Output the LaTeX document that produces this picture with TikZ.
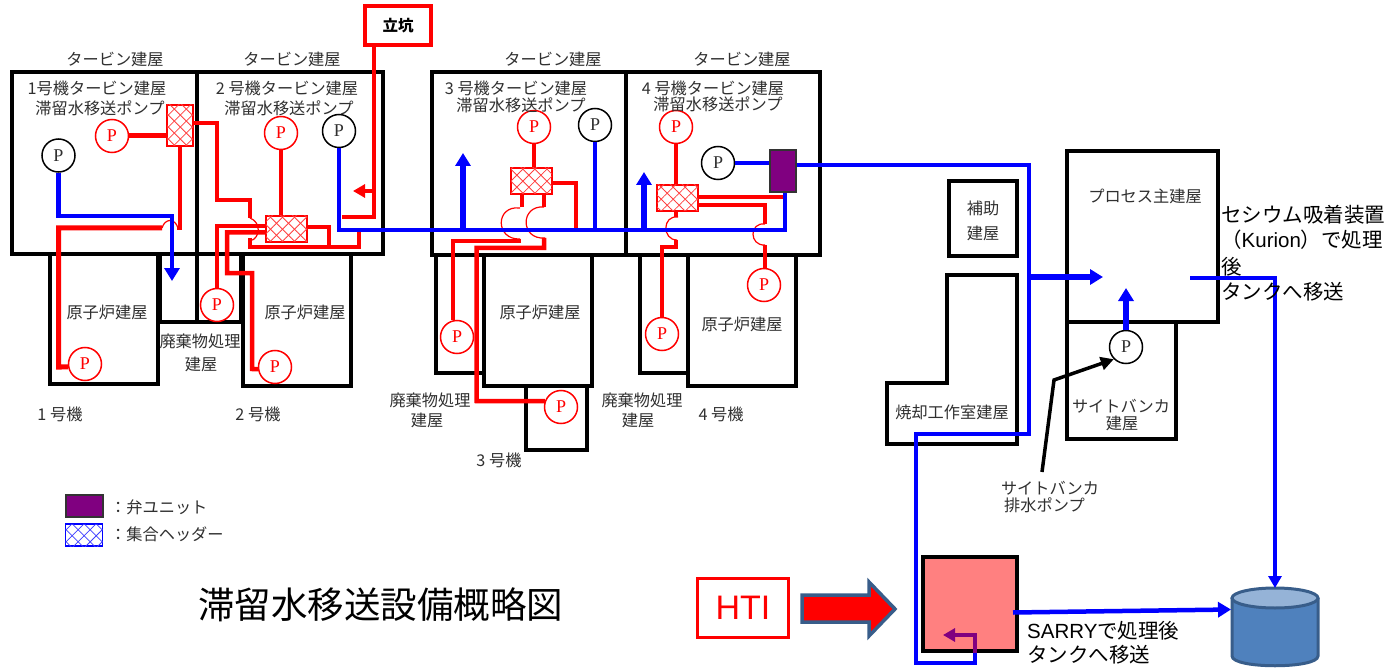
\documentclass[tikz,border=0pt]{standalone}
\usepackage{fontspec}
\setmainfont{Noto Sans CJK JP}
\newfontfamily\latinsans{Liberation Sans}
\newfontfamily\latinserif{Liberation Serif}
\usetikzlibrary{arrows.meta,patterns.meta,calc}
\definecolor{txtgray}{HTML}{303030}
\definecolor{purpleunit}{HTML}{800080}
\definecolor{salmonbox}{HTML}{FF8080}
\definecolor{tankblue}{HTML}{4F81BD}
\definecolor{tanktopc}{HTML}{95B3D7}
\definecolor{tankedge}{HTML}{385D8A}
\tikzset{
  x=1pt,y=-1pt,
  bldg/.style={draw=black,line width=4pt,fill=none,line join=miter},
  lbl/.style={inner sep=0pt,text=txtgray,font=\fontsize{16.2}{19}\selectfont},
  biglbl/.style={inner sep=0pt,text=black,font=\fontsize{20.5}{24}\selectfont,anchor=west},
  pump/.style={circle,minimum size=33pt,inner sep=0pt,line width=1.5pt,fill=white,font=\latinserif\fontsize{18}{20}\selectfont},
  pumpr/.style={pump,draw=red,text=red},
  pumpk/.style={pump,draw=black,text=txtgray},
  hdr/.style={rectangle,inner sep=0pt,draw=red,line width=1.6pt,fill=white,
    postaction={pattern={Lines[angle=45,distance=8.5pt,line width=.8pt]},pattern color=red!75},
    postaction={pattern={Lines[angle=-45,distance=8.5pt,line width=.8pt]},pattern color=red!75}},
  hdrb/.style={rectangle,inner sep=0pt,draw=blue,line width=1.6pt,fill=white,
    postaction={pattern={Lines[angle=45,distance=8.5pt,line width=.8pt]},pattern color=blue!75},
    postaction={pattern={Lines[angle=-45,distance=8.5pt,line width=.8pt]},pattern color=blue!75}},
  unit/.style={rectangle,inner sep=0pt,draw=black!80,line width=1.3pt,fill=purpleunit},
  rp/.style={draw=red,line width=4.5pt},
  rpt/.style={draw=red,line width=5pt},
  bp/.style={draw=blue,line width=4.5pt},
  bpt/.style={draw=blue,line width=5.5pt},
  hop/.style={draw=red,line width=1.2pt},
  ah/.style={-{Triangle[width=15pt,length=13pt]}},
  ahs/.style={-{Triangle[width=13pt,length=12pt]}},
}
\begin{document}
\begin{tikzpicture}
\useasboundingbox (0,0) rectangle (1391,668);
\fill[white] (0,0) rectangle (1391,668);

% ---- buildings, units 1-2
\draw[bldg] (12,72.5) rectangle (383,254);
\draw[bldg] (197,72.5) -- (197,322);
\draw[bldg] (50,254) rectangle (158,384);
\draw[bldg] (160,254) -- (160,322) -- (241,322) -- (241,254);
\draw[bldg] (243,254) rectangle (351,386);
% ---- buildings, units 3-4
\draw[bldg] (432,72.5) rectangle (820,255);
\draw[bldg] (626,72.5) -- (626,255);
\draw[bldg] (436,255) -- (436,373) -- (484,373);
\draw[bldg] (484,255) rectangle (592,386);
\draw[bldg] (526,386) -- (526,450) -- (587,450) -- (587,386);
\draw[bldg] (640,255) -- (640,373) -- (688,373);
\draw[bldg] (688,255) rectangle (796,386);
% ---- right-hand buildings
\draw[bldg] (1067,151) rectangle (1218,322);
\draw[bldg] (1067,322) rectangle (1176,439);
\draw[bldg] (949,181) rectangle (1017,256);
\draw[bldg] (947,275) -- (1017,275) -- (1017,444) -- (887,444) -- (887,383) -- (947,383) -- cycle;

% ---- pumps
\node[pumpk] (pk1) at (58.5,155.5) {P};
\node[pumpr] (pr1) at (112,136) {P};
\node[pumpr] (pr1b) at (85,364) {P};
\node[pumpr] (pr2) at (281,133) {P};
\node[pumpk] (pk2) at (339,131) {P};
\node[pumpr] (pr2a) at (217,305) {P};
\node[pumpr] (pr2b) at (275,367) {P};
\node[pumpr] (pr3) at (534,127) {P};
\node[pumpk] (pk3) at (595,125) {P};
\node[pumpr] (pr3a) at (457,337) {P};
\node[pumpr] (pr3b) at (561,407) {P};
\node[pumpr] (pr4) at (676,127) {P};
\node[pumpk] (pk4) at (718,163) {P};
\node[pumpr] (pr4a) at (662,334) {P};
\node[pumpr] (pr4b) at (764,285) {P};
\node[pumpk] (pks) at (1126,347) {P};

% ---- headers and valve unit
\node[hdr,minimum width=26pt,minimum height=41pt] (h1) at (180,125.5) {};
\node[hdr,minimum width=41pt,minimum height=26pt] (h2) at (286.5,229) {};
\node[hdr,minimum width=41pt,minimum height=26pt] (h3) at (531.5,181) {};
\node[hdr,minimum width=41pt,minimum height=26pt] (h4) at (677.5,198) {};
\node[unit,minimum width=26pt,minimum height=42pt] (valve) at (783,171) {};

% ---- other boxes
\node[draw=red,line width=4pt,minimum width=66pt,minimum height=39pt,inner sep=0pt,font=\bfseries\fontsize{15.5}{18}\selectfont] (shaft) at (398,25.5) {\raisebox{-3.5pt}{立坑}};
\node[draw=red,line width=2.6pt,minimum width=91pt,minimum height=59pt,inner sep=0pt,text=red,font=\latinsans\fontsize{34}{38}\selectfont] (hti) at (743,608) {HTI};
\node[draw=black,line width=4pt,fill=salmonbox,minimum width=94pt,minimum height=94pt,inner sep=0pt] (sarry) at (970,603.5) {};
\draw[line width=3.5pt,draw=tankedge,fill=red,line join=miter]
  (802,595) -- (869,595) -- (869,582) -- (895,609) -- (869,636) -- (869,622) -- (802,622) -- cycle;

% ---- tank
\draw[line width=3pt,draw=tankedge,fill=tankblue]
  (1232,598) -- (1232,656) .. controls (1232,669) and (1318,669) .. (1318,656) -- (1318,598);
\draw[line width=3pt,draw=tankedge,fill=tanktopc] (1275,598) ellipse [x radius=43,y radius=10];
\coordinate (tanktop) at (1275,588);
\coordinate (tankside) at (1231,609.5);

% ---- red pipes, unit 1
\draw[rpt] (pr1.east) -- (h1.west |- 0,136);
\draw[rp] (h1.south) -- (h1.south |- 0,228) -- (177,228);
\draw[hop] (162,228) .. controls (165,218) and (175,218) .. (178,228);
\draw[rpt] (162,228) -- (58.5,228) -- (58.5,367) -- (pr1b.190);
\draw[rp] (h1.east |- 0,123) -- (217,123) -- (217,200) -- (250,200) -- (250,218);
\draw[hop] (250,218) .. controls (261,222) and (261,238) .. (250,241);
% ---- red pipes, unit 2
\draw[rp] (pr2.south) -- (h2.north -| pr2.south);
\draw[rp] (h2.west |- 0,226) -- (217,226) -- (pr2a.north);
\draw[rp] (h2.west |- 0,232.5) -- (227,232.5) -- (227,273) -- (252,273) -- (252,369) -- (pr2b.187);
\draw[rp] (250,238) -- (250,247) -- (359,247) -- (359,230);
\draw[rp] (h2.east |- 0,227) -- (329,227) -- (329,247);
% ---- shaft
\draw[rp] (shaft.south -| 374,0) -- (374,217) -- (342,217);
\draw[rp,ahs] (374,191) -- (353,191);
% ---- red pipes, unit 3
\draw[rp] (pr3.south) -- (h3.north -| pr3.south);
\draw[rp] (h3.east |- 0,183) -- (576,183) -- (576,229);
\draw[rp] (h3.south -| 522,0) -- (522,207);
\draw[hop] (520,208) .. controls (495,205) and (495,240) .. (520,239);
\draw[rp] (521,241) -- (453,241) -- (pr3a.north -| 453,0);
\draw[rp] (h3.south -| 544,0) -- (544,207);
\draw[hop] (544,207) .. controls (520,205) and (520,240) .. (545,238);
\draw[rp] (544,238) -- (544,248) -- (476.5,248) -- (476.5,401) -- (pr3b.160);
% ---- red pipes, unit 4
\draw[rp] (pr4.south) -- (h4.north -| pr4.south);
\draw[rp] (h4.east |- 0,197) -- (783,197);
\draw[rp] (h4.east |- 0,205) -- (765,205) -- (765,224);
\draw[hop] (765,224) .. controls (749,222) and (749,246) .. (765,245);
\draw[rp] (765,245) -- (pr4b.north -| 765,0);
\draw[rp] (h4.south -| 676,0) -- (676,217);
\draw[hop] (678,217) .. controls (662,215) and (662,240) .. (677,240);
\draw[rp] (676,240) -- (676,247) -- (662,247) -- (pr4a.north);

% ---- blue pipes
\draw[bp] (pk1.south) -- (58.5,216) -- (172,216) -- (172,270);
\draw[bp,ah] (172,262) -- (172,281);
\draw[bp] (pk2.south) -- (339,230) -- (785,230) -- (valve.south -| 785,0);
\draw[bp] (pk3.south) -- (pk3.south |- 0,232);
\draw[bpt,ah] (463,230) -- (463,153);
\draw[bpt,ah] (644,230) -- (644,172);
\draw[bp] (pk4.east) -- (valve.west |- pk4.east);
\draw[bp] (valve.east |- 0,165) -- (1029,165) -- (1029,434) -- (916,434) -- (916,663) -- (975,663) -- (sarry.south -| 975,0);
\draw[bpt,ah] (1029,277) -- (1103,277);
\draw[draw=blue,line width=6pt,ah] (pks.north) -- (pks.north |- 0,288);
\draw[bp,ah] (1013,612.5) -- (tankside);
\draw[bp,ahs] (1190,278) -- (1275,278) -- (tanktop);
\draw[draw=purpleunit,line width=4pt,ahs] (sarry.south -| 975,0) -- (975,635) -- (943,635);
\draw[black,line width=3.5pt,-{Triangle[width=13pt,length=13pt]}] (1042,472) -- (1054,380) -- (pks.south west);

% ---- labels
\node[lbl] (a1) at (115,59) {タービン建屋};
\node[lbl] (a2) at (292,59) {タービン建屋};
\node[lbl] (a3) at (553,59) {タービン建屋};
\node[lbl] (a4) at (742,59) {タービン建屋};
\node[lbl] (b1) at (97,88) {1号機タービン建屋};
\node[lbl] (c1) at (100,108) {滞留水移送ポンプ};
\node[lbl] (b2) at (287,88) {2 号機タービン建屋};
\node[lbl] (c2) at (289,108) {滞留水移送ポンプ};
\node[lbl] (b3) at (516,88) {3 号機タービン建屋};
\node[lbl] (c3) at (521,105) {滞留水移送ポンプ};
\node[lbl] (b4) at (713,88) {4 号機タービン建屋};
\node[lbl] (c4) at (718,104) {滞留水移送ポンプ};
\node[lbl] (r1) at (107,312) {原子炉建屋};
\node[lbl] (r2) at (305,312) {原子炉建屋};
\node[lbl] (r3) at (540,312) {原子炉建屋};
\node[lbl] (r4) at (742,324) {原子炉建屋};
\node[lbl] (w1) at (200,341) {廃棄物処理};
\node[lbl] (w1b) at (201,364) {建屋};
\node[lbl] (w3) at (430,400) {廃棄物処理};
\node[lbl] (w3b) at (427,420) {建屋};
\node[lbl] (w4) at (642,400) {廃棄物処理};
\node[lbl] (w4b) at (638,420) {建屋};
\node[lbl] (u1) at (60,414) {1 号機};
\node[lbl] (u2) at (258,414) {2 号機};
\node[lbl] (u3) at (499,460) {3 号機};
\node[lbl] (u4) at (721,414) {4 号機};
\node[lbl] (e1) at (983,208) {補助};
\node[lbl] (e2) at (983,233) {建屋};
\node[lbl] (e3) at (1145,196) {プロセス主建屋};
\node[lbl] (e4) at (952,412) {焼却工作室建屋};
\node[lbl] (e5) at (1121,406) {サイトバンカ};
\node[lbl] (e6) at (1122,423) {建屋};
\node[lbl] (e7) at (1050,488) {サイトバンカ};
\node[lbl,anchor=west] (e8) at (1004,505) {排水ポンプ};

\node[biglbl] (k1) at (1221,215) {セシウム吸着装置};
\node[biglbl] (k2) at (1221,240) {（\latinsans Kurion\rmfamily）で処理};
\node[biglbl] (k3) at (1221,267) {後};
\node[biglbl] (k4) at (1221,292) {タンクへ移送};
\node[biglbl] (s1) at (1027,631) {\latinsans SARRY\rmfamily で処理後};
\node[biglbl] (s2) at (1027,655) {タンクへ移送};

% ---- legend and title
\node[unit,minimum width=37pt,minimum height=22pt] (lg1) at (84.5,506) {};
\node[hdrb,minimum width=37pt,minimum height=22pt] (lg2) at (84,535) {};
\node[lbl,anchor=west] (lt1) at (110,507) {：弁ユニット};
\node[lbl,anchor=west] (lt2) at (110,534) {：集合ヘッダー};
\node[inner sep=0pt,anchor=west,font=\fontsize{36.5}{40}\selectfont] (title) at (198,605) {滞留水移送設備概略図};
\end{tikzpicture}
\end{document}
